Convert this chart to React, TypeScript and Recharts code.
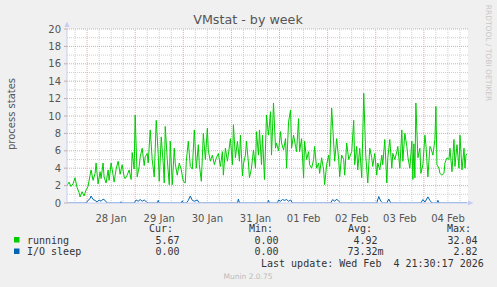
import { LineChart, Line, XAxis, YAxis, CartesianGrid, ReferenceLine } from 'recharts';

// hours since 27 Jan 00:00
const runHours = [
  14, 15, 16, 17, 18, 19, 20, 20.5, 21.5, 22.5, 23.5, 24.5, 25.5, 26, 27, 28, 28.5, 29.5, 30.5, 31,
  32, 32.5, 33.5, 34.5, 35, 36, 37, 37.5, 38.5, 39.5, 40.5, 41.5, 42.5, 43, 44, 45, 46, 46.5, 47.5, 48,
  49, 50, 50.5, 51.5, 52.5, 53, 54, 54.5, 55.5, 56.5, 57.5, 58.5, 59.5, 60, 61, 62, 62.5, 63, 64, 65,
  65.5, 66.5, 67.5, 68, 69, 70, 71, 72, 73, 73.5, 74.5, 75.5, 76.5, 77.5, 78.5, 79.5, 80, 81, 82, 83,
  84, 84.5, 85.5, 86.5, 87.5, 88.5, 89.5, 90.5, 91.5, 92, 93, 94, 94.5, 95.5, 96.5, 97, 98, 99, 100, 100.5,
  101.5, 102, 103, 103.5, 104.5, 105, 106, 107, 108, 108.5, 109.5, 110, 111, 111.5, 112.5, 113.5, 114.5, 115.5, 116, 117,
  118, 118.5, 119.5, 120.5, 121, 122, 123, 123.5, 124.5, 125.5, 126, 127, 128, 128.5, 129.5, 130, 131, 132, 132.5, 133.5,
  134.5, 135, 136, 137, 137.5, 138.5, 139.5, 140, 141, 142, 142.5, 143.5, 144.5, 145, 146, 147, 147.5, 148.5, 149.5, 150,
  151, 152, 152.5, 153.5, 154.5, 155, 156, 157, 157.5, 158.5, 159, 160, 161, 162, 163, 164, 165, 166, 166.5, 167.5,
  168.5, 169, 170, 171, 171.5, 172.5, 173.5, 174, 175, 176, 176.5, 177.5, 178.5, 179, 180, 181, 181.5, 182.5, 183.5, 184,
  185, 186, 186.5, 187, 187.5, 188, 189, 190, 190.5, 191.5, 192.5, 193, 194, 195, 195.5, 196.5, 197.5, 198, 198.5, 199.5,
  200, 201, 202, 202.5, 203.5, 204.5, 205, 206, 207, 207.5, 208.5, 209.5, 210, 211, 212, 212.5, 213, 213.5,
];
const running = [
  2.0, 2.4, 1.9, 2.2, 2.9, 1.8, 1.2, 0.7, 1.3, 0.8, 1.5, 1.9, 3.2, 3.8, 2.6, 3.4, 4.6, 2.2, 3.6, 2.8,
  4.6, 3.0, 2.3, 3.8, 2.6, 4.6, 3.2, 2.4, 3.9, 4.8, 3.3, 4.4, 3.0, 2.8, 3.2, 3.8, 2.7, 5.8, 3.9, 10.1,
  3.0, 4.2, 5.3, 6.3, 4.3, 5.3, 5.7, 4.6, 8.4, 5.0, 3.0, 9.5, 5.6, 2.5, 7.6, 4.5, 2.3, 8.8, 5.0, 2.1,
  7.1, 2.1, 6.3, 4.5, 3.2, 4.6, 3.8, 2.5, 2.3, 4.8, 7.1, 4.2, 3.9, 8.4, 4.0, 6.7, 4.4, 2.5, 8.0, 5.0,
  8.6, 6.0, 4.8, 5.5, 4.4, 5.2, 5.7, 4.2, 5.9, 3.2, 6.3, 4.8, 5.6, 7.4, 4.4, 9.0, 5.2, 7.1, 4.8, 7.8,
  3.1, 4.5, 5.5, 7.1, 4.6, 2.9, 4.0, 6.1, 4.0, 8.2, 5.5, 8.4, 4.4, 7.8, 2.7, 10.1, 7.8, 10.5, 5.5, 11.5,
  6.3, 6.9, 6.0, 8.2, 6.9, 6.1, 7.4, 4.0, 9.3, 10.7, 6.3, 7.8, 6.5, 5.9, 9.7, 5.9, 7.4, 2.9, 7.1, 5.0,
  5.9, 4.4, 4.0, 5.0, 6.5, 4.0, 4.6, 3.4, 5.2, 3.8, 2.1, 4.4, 5.5, 4.2, 10.9, 6.9, 4.8, 7.4, 5.0, 3.0,
  5.5, 5.0, 3.2, 6.9, 5.0, 5.3, 5.9, 9.5, 4.4, 6.5, 3.8, 6.3, 2.9, 12.6, 5.5, 2.3, 6.3, 5.2, 4.2, 5.7,
  3.2, 4.6, 3.8, 5.5, 4.4, 7.3, 2.3, 5.2, 7.3, 4.0, 5.7, 5.0, 5.9, 6.5, 4.0, 8.4, 4.8, 8.0, 6.5, 5.3,
  4.0, 7.1, 2.7, 6.8, 2.9, 11.5, 5.2, 6.3, 3.4, 4.4, 7.8, 6.7, 3.0, 6.5, 6.3, 5.5, 7.3, 11.1, 4.4, 4.0,
  3.4, 3.2, 3.4, 4.6, 5.2, 5.0, 6.3, 3.6, 7.3, 4.2, 6.7, 4.0, 7.8, 3.8, 6.3, 4.0, 5.5, 5.67,
];

const ioHours = [
  14, 23.5, 24.5, 25.5, 26, 27, 28, 29, 30, 31, 32, 33, 34, 40.5, 41, 41.5, 47.5, 48.5, 49.5, 50.5,
  51.5, 52.5, 53.5, 54.5, 59, 59.5, 60, 71, 71.5, 72, 73.5, 74.5, 75.5, 76.5, 77.5, 79, 80, 99, 99.5, 100,
  114, 114.5, 115, 119, 119.5, 120.5, 121.5, 122.5, 123.5, 124.5, 125.5, 126.5, 145.5, 146.5, 147.5, 148.5, 149.5, 150.5,
  168.5, 169.5, 170.5, 171.5, 173.5, 174.5, 175.5, 190.5, 191.5, 192.5, 194, 195, 196, 198.5, 199, 199.5, 213.5,
];
const ioSleep = [
  0, 0, 0.3, 0.5, 0.8, 0.4, 0.3, 0.1, 0.35, 0.2, 0.45, 0.3, 0, 0, 0.15, 0, 0, 0.35, 0.2, 0.4,
  0.2, 0.35, 0.15, 0, 0, 0.3, 0, 0, 0.25, 0, 0, 0.3, 0.8, 0.3, 0.2, 0.35, 0, 0, 0.45, 0,
  0, 0.3, 0, 0, 0.35, 0.2, 0.4, 0.3, 0.4, 0.2, 0.35, 0, 0, 0.4, 0.2, 0.45, 0.2, 0,
  0, 0.75, 0.2, 0, 0, 0.45, 0, 0, 0.4, 0.1, 0.7, 0.3, 0, 0, 0.3, 0, 0,
];

const dayTicks = [36, 60, 84, 108, 132, 156, 180, 204];
const dayLabels = ['28 Jan', '29 Jan', '30 Jan', '31 Jan', '01 Feb', '02 Feb', '03 Feb', '04 Feb'];
const yTicks = [0, 2, 4, 6, 8, 10, 12, 14, 16, 18, 20];

const majorX = [24, 48, 72, 96, 120, 144, 168, 192];
const minorX = [18, 30, 36, 42, 54, 60, 66, 78, 84, 90, 102, 108, 114, 126, 132, 138, 150, 156, 162, 174, 180, 186, 198, 204, 210];
const majorY = [2, 4, 6, 8, 10, 12, 14, 16, 18, 20];
const minorY = [1, 3, 5, 7, 9, 11, 13, 15, 17, 19];

const legendRows = [
  { name: 'running', color: '#00cc00', cur: '5.67', min: '0.00', avg: '4.92', max: '32.04' },
  { name: 'I/O sleep', color: '#0066b3', cur: '0.00', min: '0.00', avg: '73.32m', max: '2.82' },
];

const runData = runHours.map((h, i) => ({ h, v: running[i] }));
const ioData = ioHours.map((h, i) => ({ h, v: ioSleep[i] }));

const sans = 'DejaVu Sans, sans-serif';
const mono = 'DejaVu Sans Mono, monospace';
const minorColor = '#cfcfcf';
const majorColor = '#e8a4a4';

export default function App() {
  return (
    <div style={{ position: 'absolute', left: 0, top: 0, width: 497, height: 287, background: '#f0f0f0' }}>
      <LineChart width={497} height={287} margin={{ top: 29, right: 29, bottom: 64, left: 27 }}>
        <CartesianGrid fill="#ffffff" horizontal={false} vertical={false} />
        {minorX.map((v) => (
          <ReferenceLine key={'mx' + v} x={v} stroke={minorColor} strokeDasharray="1 1" />
        ))}
        {minorY.map((v) => (
          <ReferenceLine key={'my' + v} y={v} stroke={minorColor} strokeDasharray="1 1" />
        ))}
        {majorX.map((v) => (
          <ReferenceLine key={'Mx' + v} x={v} stroke={majorColor} strokeDasharray="1 1" />
        ))}
        {majorY.map((v) => (
          <ReferenceLine key={'My' + v} y={v} stroke={majorColor} strokeDasharray="1 1" />
        ))}
        <XAxis
          dataKey="h"
          type="number"
          domain={[14, 214]}
          allowDataOverflow
          ticks={dayTicks}
          tickFormatter={(v: number) => dayLabels[dayTicks.indexOf(v)] ?? ''}
          height={20}
          tickLine={false}
          tickMargin={6}
          axisLine={{ stroke: '#c8ccf4' }}
          tick={{ fontSize: 10, fill: '#555', fontFamily: sans }}
        />
        <YAxis
          type="number"
          domain={[0, 20]}
          allowDataOverflow
          ticks={yTicks}
          width={40}
          tickSize={3}
          tickMargin={3}
          tickLine={{ stroke: '#c8a8a8' }}
          axisLine={{ stroke: '#c8ccf4' }}
          tick={{ fontSize: 10, fill: '#555', fontFamily: sans }}
        />
        <Line data={runData} dataKey="v" type="linear" stroke="#00cc00" strokeWidth={1} dot={false} isAnimationActive={false} />
        <Line data={ioData} dataKey="v" type="linear" stroke="#0066b3" strokeWidth={1} dot={false} isAnimationActive={false} />
      </LineChart>
      <svg width={497} height={287} style={{ position: 'absolute', left: 0, top: 0, pointerEvents: 'none' }}>
        <text x={248} y={24} textAnchor="middle" fontFamily={sans} fontSize={12.7} fill="#555">VMstat - by week</text>
        <text transform="translate(14.5,114) rotate(-90)" textAnchor="middle" fontFamily={sans} fontSize={10} fill="#555">process states</text>
        <text transform="translate(486,53) rotate(90)" textAnchor="middle" fontFamily={sans} fontSize={7.5} fill="#c8c8c8">RRDTOOL / TOBI OETIKER</text>
        <polygon points="64.5,27 69.5,27 67,21.5" fill="#c8ccf4" />
        <polygon points="468,200.5 468,205.5 473.5,203" fill="#c8ccf4" />
        <g fontFamily={mono} fontSize={10} fill="#333">
          <text x={149} y={232}>Cur:</text>
          <text x={249} y={232}>Min:</text>
          <text x={348} y={232}>Avg:</text>
          <text x={447} y={232}>Max:</text>
          {legendRows.map((r, i) => (
            <g key={r.name}>
              <rect x={14} y={237 + i * 11.5} width={5.5} height={5.5} fill={r.color} />
              <text x={27} y={243.5 + i * 11.5}>{r.name}</text>
              <text x={179.5} y={243.5 + i * 11.5} textAnchor="end">{r.cur}</text>
              <text x={278.5} y={243.5 + i * 11.5} textAnchor="end">{r.min}</text>
              <text x={r.avg.endsWith('m') ? 383.5 : 377.5} y={243.5 + i * 11.5} textAnchor="end">{r.avg}</text>
              <text x={477.5} y={243.5 + i * 11.5} textAnchor="end">{r.max}</text>
            </g>
          ))}
          <text x={261} y={267}>{'Last update: Wed Feb\u00a0\u00a04 21:30:17 2026'}</text>
        </g>
        <text x={248} y={279} textAnchor="middle" fontFamily={sans} fontSize={7.5} fill="#bbb">Munin 2.0.75</text>
      </svg>
    </div>
  );
}
